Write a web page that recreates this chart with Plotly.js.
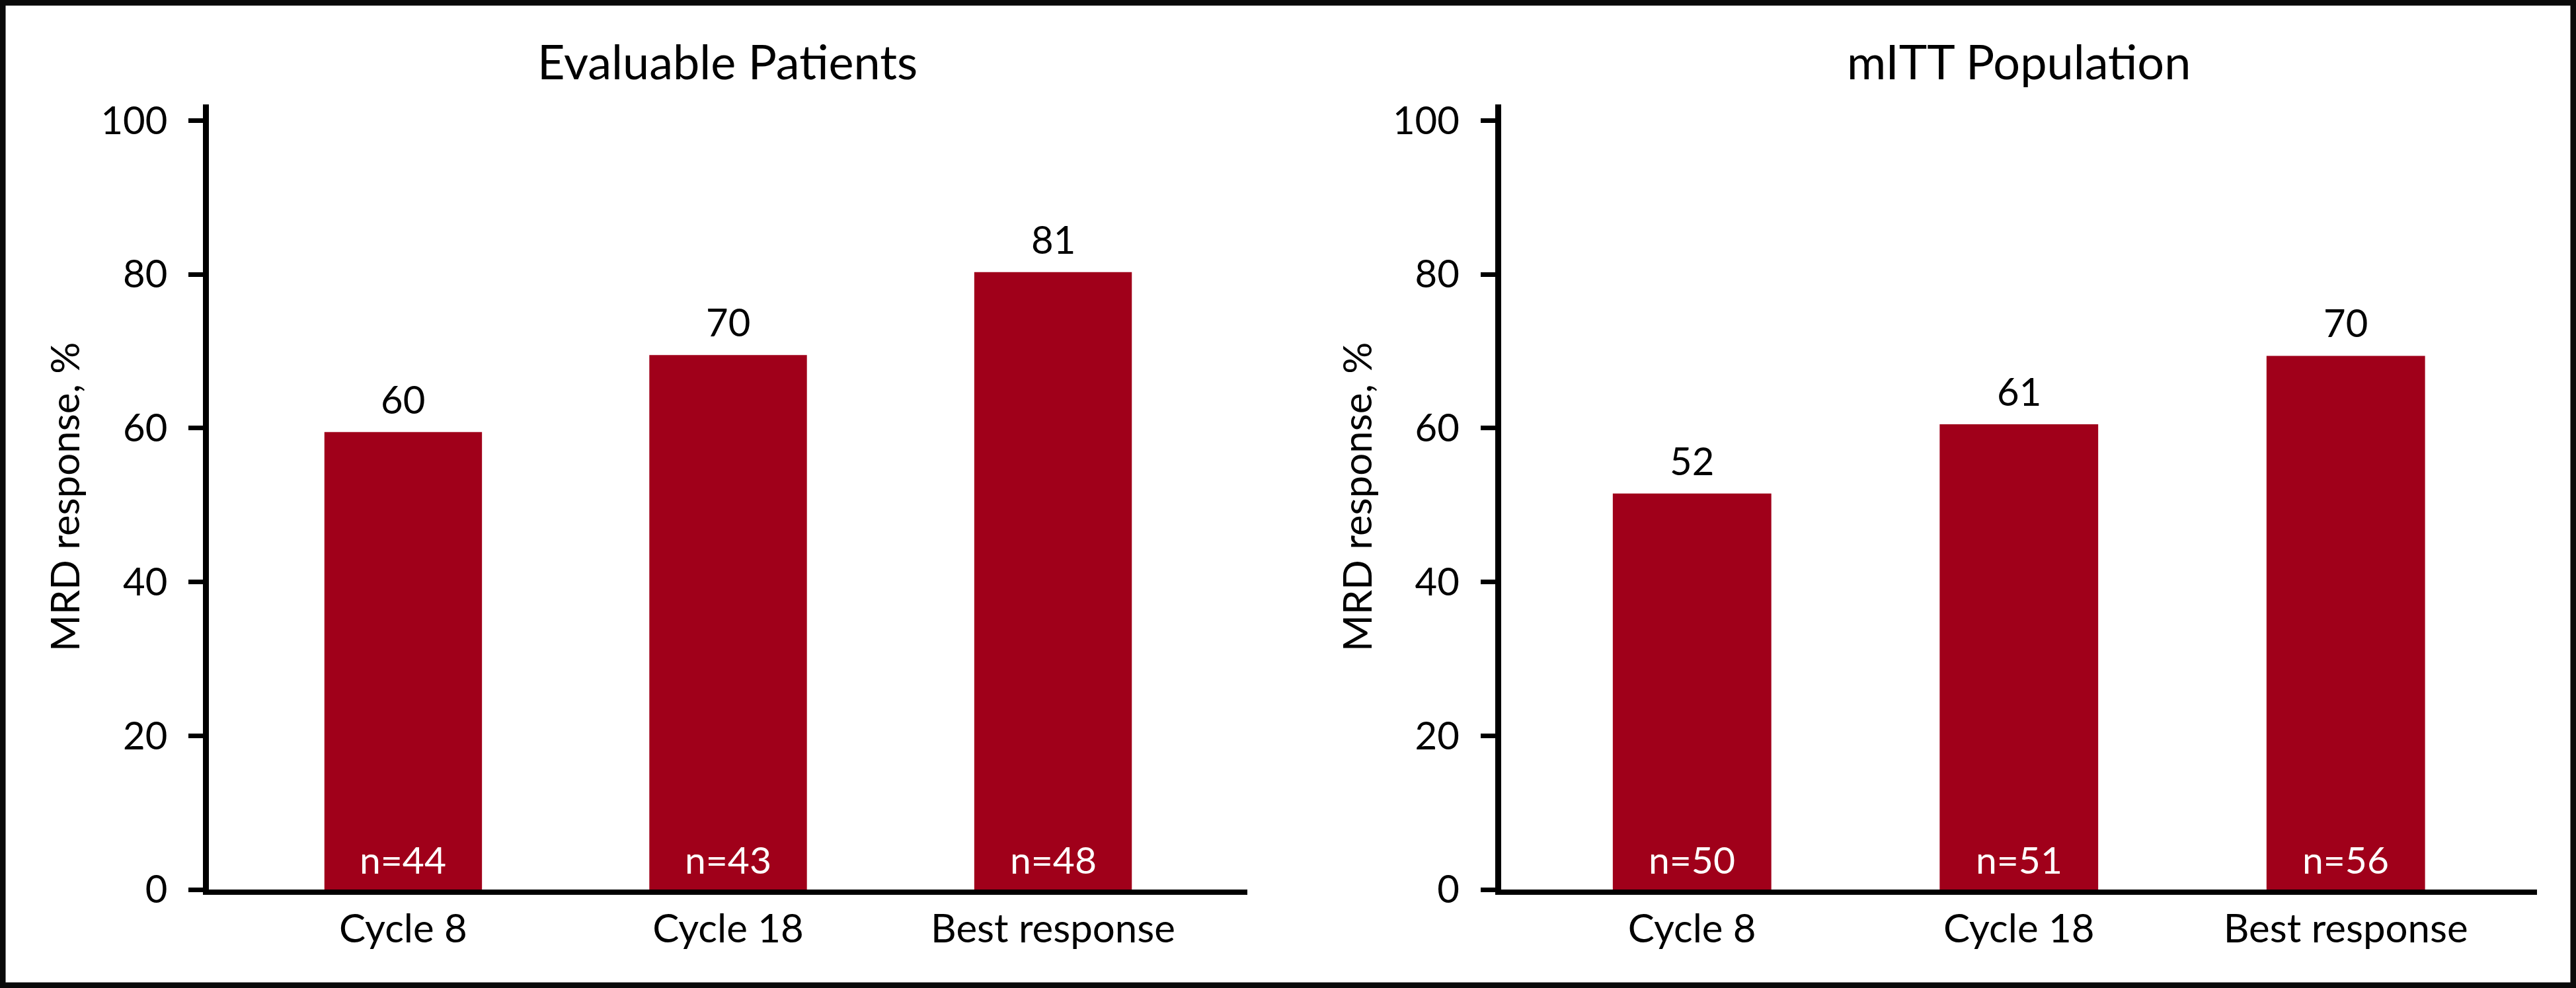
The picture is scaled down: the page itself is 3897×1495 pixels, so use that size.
<!DOCTYPE html>
<html>
<head>
<meta charset="utf-8">
<script src="https://cdn.plot.ly/plotly-3.0.1.min.js"></script>
<style>
  html, body { margin: 0; padding: 0; background: #ffffff; }
  #chart { width: 3897px; height: 1495px; }
</style>
</head>
<body>
<div id="chart"></div>
<script>
// ---- data ----
const categories = ['Cycle 8', 'Cycle 18', 'Best response'];
const panelTitles = ['Evaluable Patients', 'mITT Population'];
const evaluableValues = [59.5, 69.5, 80.3];
const evaluableLabels = ['60', '70', '81'];
const evaluableN = ['n=44', 'n=43', 'n=48'];
const mittValues = [51.5, 60.5, 69.4];
const mittLabels = ['52', '61', '70'];
const mittN = ['n=50', 'n=51', 'n=56'];
const yTickVals = [0, 20, 40, 60, 80, 100];
const yAxisTitle = 'MRD response, %';

// ---- style ----
const W = 3897, H = 1495;
const FONT = 'Lato, "Open Sans", sans-serif';
const BAR = '#A0001A';
const px = x => x / W;
const py = y => 1 - y / H;

const yDomain = [py(1346), py(158)];
const yRange = [0, 102.1];

function xAxis(domain, range) {
  return {
    domain: domain, range: range, type: 'category',
    showline: true, linecolor: '#000', linewidth: 8,
    ticks: '', showgrid: false, zeroline: false,
    tickfont: { family: FONT, size: 60, color: '#000' },
    ticklabelstandoff: 0, fixedrange: true
  };
}
function yAxis(anchor) {
  return {
    domain: yDomain, range: yRange, anchor: anchor,
    showline: true, linecolor: '#000', linewidth: 9,
    ticks: 'outside', ticklen: 22, tickwidth: 7, tickcolor: '#000',
    tickvals: yTickVals, showgrid: false, zeroline: false,
    tickfont: { family: FONT, size: 58, color: '#000' },
    ticklabelstandoff: 20, fixedrange: true
  };
}

const traces = [
  { type: 'bar', x: categories, y: evaluableValues, xaxis: 'x', yaxis: 'y',
    marker: { color: BAR, line: { width: 0 } }, hoverinfo: 'skip' },
  { type: 'bar', x: categories, y: mittValues, xaxis: 'x2', yaxis: 'y2',
    marker: { color: BAR, line: { width: 0 } }, hoverinfo: 'skip' }
];

const annotations = [];
function addPanelAnnotations(xref, yref, values, labels, ns) {
  categories.forEach((c, i) => {
    annotations.push({ xref: xref, yref: yref, x: c, y: values[i], text: labels[i],
      showarrow: false, yanchor: 'bottom', yshift: 14,
      font: { family: FONT, size: 58, color: '#000' } });
    annotations.push({ xref: xref, yref: yref, x: c, y: 0, text: ns[i],
      showarrow: false, yanchor: 'bottom', yshift: 10,
      font: { family: FONT, size: 57, color: '#fff' } });
  });
}
addPanelAnnotations('x', 'y', evaluableValues, evaluableLabels, evaluableN);
addPanelAnnotations('x2', 'y2', mittValues, mittLabels, mittN);

// panel titles
[[px(1100), panelTitles[0]], [px(3054), panelTitles[1]]].forEach(([x, t]) => {
  annotations.push({ xref: 'paper', yref: 'paper', x: x, y: py(92), text: t,
    showarrow: false, xanchor: 'center', yanchor: 'middle',
    font: { family: FONT, size: 72, color: '#000' } });
});
// y-axis titles
[px(97), px(2052)].forEach(x => {
  annotations.push({ xref: 'paper', yref: 'paper', x: x, y: py(752), text: yAxisTitle,
    showarrow: false, textangle: -90, xanchor: 'center', yanchor: 'middle',
    font: { family: FONT, size: 60, color: '#000' } });
});

const layout = {
  width: W, height: H,
  margin: { l: 0, r: 0, t: 0, b: 0, pad: 0 },
  paper_bgcolor: '#fff', plot_bgcolor: '#fff',
  showlegend: false, bargap: 0.515,
  xaxis: xAxis([px(316), px(1887)], [-0.598, 2.598]),
  yaxis: yAxis('x'),
  xaxis2: xAxis([px(2270.5), px(3838)], [-0.585, 2.585]),
  yaxis2: yAxis('x2'),
  annotations: annotations,
  shapes: [{ type: 'rect', xref: 'paper', yref: 'paper', x0: 0, y0: 0, x1: 1, y1: 1,
    line: { color: '#0a0a0a', width: 17 }, fillcolor: 'rgba(0,0,0,0)', layer: 'above' }]
};
layout.xaxis.anchor = 'y';
layout.xaxis2.anchor = 'y2';

Plotly.newPlot('chart', traces, layout, { staticPlot: true, displayModeBar: false });
</script>
</body>
</html>
